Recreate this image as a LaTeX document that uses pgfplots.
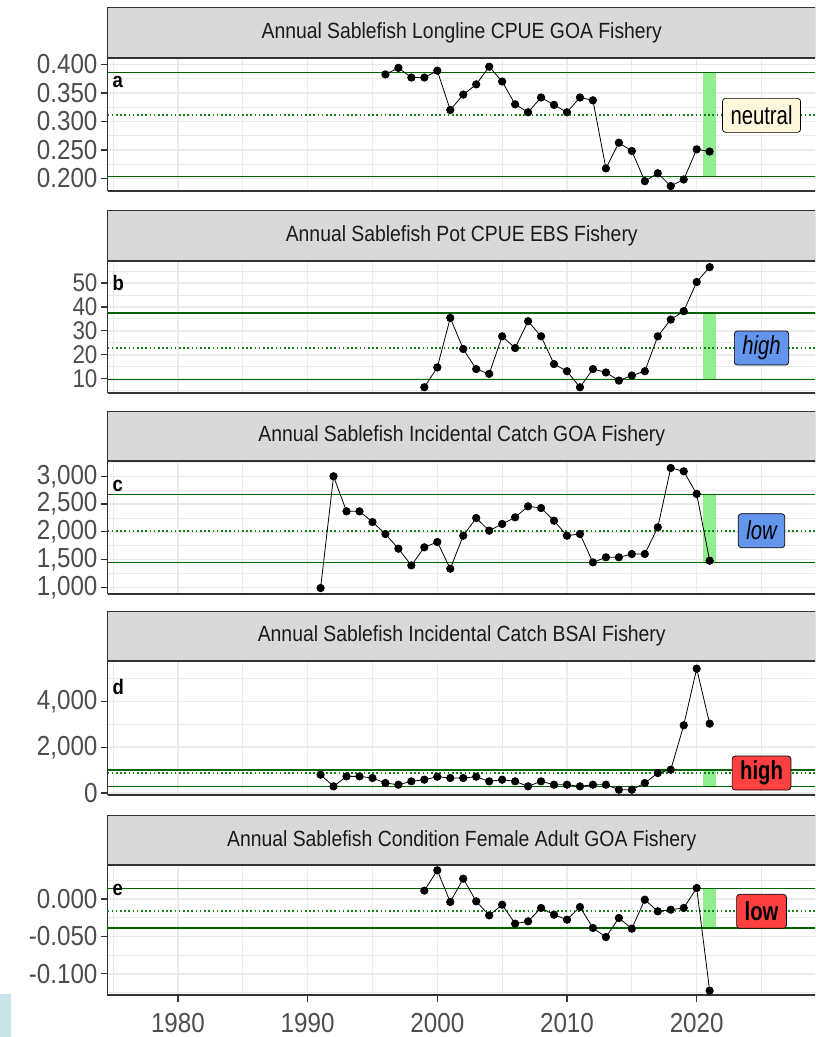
\documentclass[border=0pt]{standalone}
\usepackage{fontspec}
\setmainfont{Liberation Sans}
\newfontfamily\narrowfont[FakeStretch=0.88]{Liberation Sans}
\newfontfamily\boxfont[FakeStretch=0.78]{Liberation Sans}
\usepackage{pgfplots}
\pgfplotsset{compat=1.18}
\definecolor{gridgray}{HTML}{EBEBEB}
\definecolor{stripfill}{HTML}{D9D9D9}
\definecolor{framegray}{HTML}{333333}
\definecolor{ticktext}{HTML}{4D4D4D}
\definecolor{stripink}{HTML}{1A1A1A}
\definecolor{refgreen}{HTML}{006400}
\definecolor{dotgreen}{RGB}{20,130,20}
\definecolor{bandgreen}{HTML}{90EE90}
\definecolor{neutralfill}{HTML}{FFF8DC}
\definecolor{bluefill}{HTML}{6495ED}
\definecolor{redfill}{HTML}{FF4040}
\definecolor{cornerblue}{RGB}{200,228,232}

\pgfplotsset{
  facet/.style={
    scale only axis, width=708.5pt,
    xmin=1974.57, xmax=2029.2,
    axis lines*=left, axis line style={-},
    x axis line style={framegray, line width=2pt},
    y axis line style={framegray, line width=1pt},
    tick align=outside, major tick length=6.5pt, minor tick length=0pt,
    ytick style={framegray, line width=1.3pt},
    xtick={1980,1990,2000,2010,2020},
    minor xtick={1975,1985,1995,2005,2015,2025},
    grid=both,
    major grid style={gridgray, line width=1.6pt},
    minor grid style={gridgray, line width=0.8pt},
    yticklabel style={font=\narrowfont\fontsize{27.5}{28}\selectfont, text=ticktext, inner ysep=0pt},
    clip=false,
  },
  notx/.style={xticklabels={}, xtick style={draw=none}},
  hiline/.style={refgreen, line width=1.4pt},
  meanline/.style={dotgreen, line width=1.8pt, dash pattern=on 1.6pt off 2.6pt},
  series/.style={black, line width=0.8pt, mark=*, mark size=3.7pt},
  band/.style={draw=none, fill=bandgreen},
}
\tikzset{
  flag/.style={draw=black, line width=0.7pt, rounded corners=3pt, inner xsep=8pt,
    minimum height=34pt, font=\boxfont\fontsize{26}{26}\selectfont},
  letter/.style={anchor=west, inner sep=0pt, font=\narrowfont\bfseries\fontsize{21}{21}\selectfont},
}

\newcommand{\facetstrip}[1]{%
  \path[fill=stripfill, draw=framegray, line width=1.2pt] (rel axis cs:0,1) rectangle ([yshift=50pt]rel axis cs:1,1);
  \draw[framegray, line width=2pt] (rel axis cs:0,1) -- (rel axis cs:1,1);
  \node[font=\narrowfont\fontsize{22}{22}\selectfont, text=stripink] at ([yshift=25pt]rel axis cs:0.5,1) {#1};
}

\begin{document}
\begin{tikzpicture}
\useasboundingbox (0pt,0pt) rectangle (815pt,-1037pt);
\clip (0pt,0pt) rectangle (815pt,-1037pt);
\fill[cornerblue] (0pt,-994pt) rectangle (11pt,-1037pt);

% a
\begin{axis}[facet, notx, at={(107.5pt,-191pt)}, anchor=south west, height=133.3pt,
  ymin=0.1778, ymax=0.4118,
  ytick={0.2,0.25,0.3,0.35,0.4}, minor ytick={0.225,0.275,0.325,0.375},
  yticklabels={0.200,0.250,0.300,0.350,0.400}]
\addplot[band] coordinates {(2020.5,0.2035) (2020.5,0.386) (2021.5,0.386) (2021.5,0.2035)} -- cycle;
\addplot[hiline] coordinates {(1974.57,0.386) (2029.2,0.386)};
\addplot[hiline] coordinates {(1974.57,0.2035) (2029.2,0.2035)};
\addplot[meanline] coordinates {(1974.57,0.3106) (2029.2,0.3106)};
\addplot[series] coordinates {
(1996,0.3825) (1997,0.394) (1998,0.377) (1999,0.377) (2000,0.389) (2001,0.320)
(2002,0.347) (2003,0.365) (2004,0.396) (2005,0.370) (2006,0.330) (2007,0.316)
(2008,0.342) (2009,0.329) (2010,0.316) (2011,0.342) (2012,0.337) (2013,0.2175)
(2014,0.2626) (2015,0.248) (2016,0.195) (2017,0.209) (2018,0.1865) (2019,0.198)
(2020,0.251) (2021,0.247)};
\node[flag, fill=neutralfill] at (axis cs:2025,0.3106) {neutral};
\node[letter] at (rel axis cs:0.007,0.82) {a};
\facetstrip{Annual Sablefish Longline CPUE GOA Fishery}
\end{axis}

% b
\begin{axis}[facet, notx, at={(107.5pt,-393pt)}, anchor=south west, height=132.3pt,
  ymin=4.0, ymax=59.3,
  ytick={10,20,30,40,50}, minor ytick={5,15,25,35,45,55},
  yticklabels={10,20,30,40,50},
  yticklabel style={font=\narrowfont\fontsize{25.5}{26}\selectfont}]
\addplot[band] coordinates {(2020.5,9.6) (2020.5,37.5) (2021.5,37.5) (2021.5,9.6)} -- cycle;
\addplot[hiline] coordinates {(1974.57,37.5) (2029.2,37.5)};
\addplot[hiline] coordinates {(1974.57,9.6) (2029.2,9.6)};
\addplot[meanline] coordinates {(1974.57,22.8) (2029.2,22.8)};
\addplot[series] coordinates {
(1999,6.4) (2000,14.7) (2001,35.4) (2002,22.4) (2003,14.0) (2004,12.0) (2005,27.7)
(2006,22.8) (2007,34.0) (2008,27.7) (2009,16.1) (2010,13.1) (2011,6.4) (2012,14.0)
(2013,12.6) (2014,9.2) (2015,11.3) (2016,13.1) (2017,27.7) (2018,34.7) (2019,38.2)
(2020,50.4) (2021,56.6)};
\node[flag, fill=bluefill] at (axis cs:2025,22.8) {\itshape high};
\node[letter] at (rel axis cs:0.007,0.83) {b};
\facetstrip{Annual Sablefish Pot CPUE EBS Fishery}
\end{axis}

% c
\begin{axis}[facet, notx, at={(107.5pt,-593.7pt)}, anchor=south west, height=132.4pt,
  ymin=886, ymax=3270,
  ytick={1000,1500,2000,2500,3000}, minor ytick={1250,1750,2250,2750,3250},
  yticklabels={{1,000},{1,500},{2,000},{2,500},{3,000}}]
\addplot[band] coordinates {(2020.5,1450) (2020.5,2670) (2021.5,2670) (2021.5,1450)} -- cycle;
\addplot[hiline] coordinates {(1974.57,2670) (2029.2,2670)};
\addplot[hiline] coordinates {(1974.57,1450) (2029.2,1450)};
\addplot[meanline] coordinates {(1974.57,2021) (2029.2,2021)};
\addplot[series] coordinates {
(1991,988) (1992,3000) (1993,2369) (1994,2369) (1995,2177) (1996,1961) (1997,1697)
(1998,1396) (1999,1721) (2000,1817) (2001,1336) (2002,1931) (2003,2249) (2004,2021)
(2005,2141) (2006,2261) (2007,2459) (2008,2429) (2009,2201) (2010,1931) (2011,1961)
(2012,1450) (2013,1541) (2014,1541) (2015,1601) (2016,1601) (2017,2081) (2018,3150)
(2019,3090) (2020,2682) (2021,1480)};
\node[flag, fill=bluefill] at (axis cs:2025,2021) {\itshape low};
\node[letter] at (rel axis cs:0.007,0.813) {c};
\facetstrip{Annual Sablefish Incidental Catch GOA Fishery}
\end{axis}

% d
\begin{axis}[facet, notx, at={(107.5pt,-794.7pt)}, anchor=south west, height=133.4pt,
  ymin=-73, ymax=5745,
  ytick={0,2000,4000}, minor ytick={1000,3000,5000},
  yticklabels={0,{2,000},{4,000}}]
\addplot[band] coordinates {(2020.5,291) (2020.5,1004) (2021.5,1004) (2021.5,291)} -- cycle;
\addplot[hiline] coordinates {(1974.57,1004) (2029.2,1004)};
\addplot[hiline] coordinates {(1974.57,291) (2029.2,291)};
\addplot[meanline] coordinates {(1974.57,873) (2029.2,873)};
\addplot[series] coordinates {
(1991,800) (1992,291) (1993,727) (1994,727) (1995,655) (1996,436) (1997,364)
(1998,509) (1999,582) (2000,713) (2001,655) (2002,655) (2003,713) (2004,509)
(2005,582) (2006,509) (2007,291) (2008,509) (2009,364) (2010,364) (2011,291)
(2012,364) (2013,364) (2014,145) (2015,145) (2016,436) (2017,873) (2018,1018)
(2019,2953) (2020,5425) (2021,3025)};
\node[flag, fill=redfill] at (axis cs:2025,873) {\bfseries high};
\node[letter] at (rel axis cs:0.007,0.81) {d};
\facetstrip{Annual Sablefish Incidental Catch BSAI Fishery}
\end{axis}

% e
\begin{axis}[facet, at={(107.5pt,-995.3pt)}, anchor=south west, height=130pt,
  ymin=-0.1289, ymax=0.0451,
  ytick={-0.1,-0.05,0}, minor ytick={-0.125,-0.075,-0.025,0.025},
  yticklabels={-0.100,-0.050,0.000},
  xticklabels={1980,1990,2000,2010,2020},
  xtick style={framegray, line width=1.3pt},
  xticklabel style={font=\narrowfont\fontsize{27.5}{28}\selectfont, text=ticktext, yshift=-7.5pt}]
\addplot[band] coordinates {(2020.5,-0.0388) (2020.5,0.0138) (2021.5,0.0138) (2021.5,-0.0388)} -- cycle;
\addplot[hiline] coordinates {(1974.57,0.0138) (2029.2,0.0138)};
\addplot[hiline] coordinates {(1974.57,-0.0388) (2029.2,-0.0388)};
\addplot[meanline] coordinates {(1974.57,-0.0165) (2029.2,-0.0165)};
\addplot[series] coordinates {
(1999,0.0112) (2000,0.0384) (2001,-0.0040) (2002,0.0272) (2003,-0.0031) (2004,-0.0219)
(2005,-0.0076) (2006,-0.0330) (2007,-0.0299) (2008,-0.0120) (2009,-0.0210) (2010,-0.0277)
(2011,-0.0107) (2012,-0.0388) (2013,-0.0509) (2014,-0.0254) (2015,-0.0397) (2016,-0.0009)
(2017,-0.0165) (2018,-0.0143) (2019,-0.0120) (2020,0.0147) (2021,-0.1227)};
\node[flag, fill=redfill] at (axis cs:2025,-0.0165) {\bfseries low};
\node[letter] at (rel axis cs:0.007,0.81) {e};
\facetstrip{Annual Sablefish Condition Female Adult GOA Fishery}
\end{axis}
\end{tikzpicture}
\end{document}
